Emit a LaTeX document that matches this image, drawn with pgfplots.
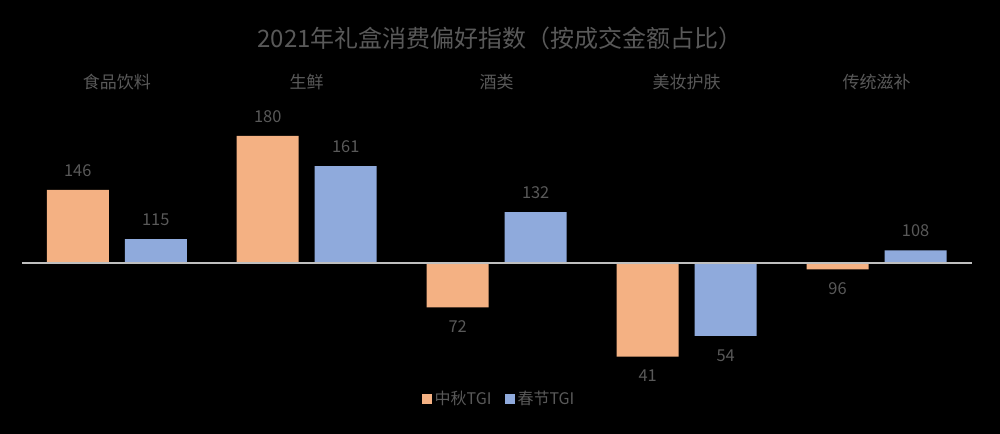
\documentclass[border=0pt]{standalone}
\usepackage{pgfplots}
\pgfplotsset{compat=1.18}
\usepackage{fontspec}
\setmainfont{Noto Sans CJK SC}
\definecolor{txt}{HTML}{595959}
\definecolor{org}{HTML}{F4B183}
\definecolor{blu}{HTML}{8FAADC}
\definecolor{base}{HTML}{BFBFBF}
\pgfplotstableread{
x y
0 146
1 180
2 72
3 41
4 96
}\zhongqiu
\pgfplotstableread{
x y
0 115
1 161
2 132
3 54
4 108
}\chunjie
\begin{document}
\begin{tikzpicture}[x=0.75pt,y=-0.75pt]
\fill[black] (0,0) rectangle (1000,434);
\node[text=txt,font=\fontsize{18}{20}\selectfont] at (500,38) {2021年礼盒消费偏好指数（按成交金额占比）};
\begin{axis}[
  at={(16.35pt,-280.575pt)}, anchor=south west,
  scale only axis, width=712.3pt, height=190.5pt,
  xmin=-0.5, xmax=4.5, ymin=-70, ymax=90,
  y filter/.expression={y-100},
  hide axis, clip=false,
  ybar, bar width=46.5pt,
  point meta=y,
  visualization depends on={\thisrow{y} \as \rawy},
  nodes near coords={\pgfmathprintnumber[fixed, precision=0, assume math mode=true]{\rawy}},
  nodes near coords align={vertical},
  every node near coord/.append style={text=txt, font=\fontsize{12.3}{14}\selectfont, inner sep=10pt},
  legend columns=2,
  legend style={at={(rel axis cs:0.503,-0.098)}, anchor=center, draw=none, fill=none,
    text=txt, font=\fontsize{12}{14}\selectfont,
    /tikz/every even column/.append style={column sep=8pt}},
  legend image code/.code={\fill[#1] (0pt,-3.75pt) rectangle (7.5pt,3.75pt);},
]
\addplot[fill=org, draw=none, bar shift=-29.25pt] table[x=x, y=y] {\zhongqiu};
\addlegendentry{中秋TGI}
\addplot[fill=blu, draw=none, bar shift=29.25pt] table[x=x, y=y] {\chunjie};
\addlegendentry{春节TGI}
\draw[base, line width=1.1pt] (rel axis cs:0,0.4374) -- (rel axis cs:1,0.4374);
\node[text=txt, font=\fontsize{12.75}{14}\selectfont] at (rel axis cs:0.1,1.15) {食品饮料};
\node[text=txt, font=\fontsize{12.75}{14}\selectfont] at (rel axis cs:0.3,1.15) {生鲜};
\node[text=txt, font=\fontsize{12.75}{14}\selectfont] at (rel axis cs:0.5,1.15) {酒类};
\node[text=txt, font=\fontsize{12.75}{14}\selectfont] at (rel axis cs:0.7,1.15) {美妆护肤};
\node[text=txt, font=\fontsize{12.75}{14}\selectfont] at (rel axis cs:0.9,1.15) {传统滋补};
\end{axis}
\end{tikzpicture}
\end{document}
